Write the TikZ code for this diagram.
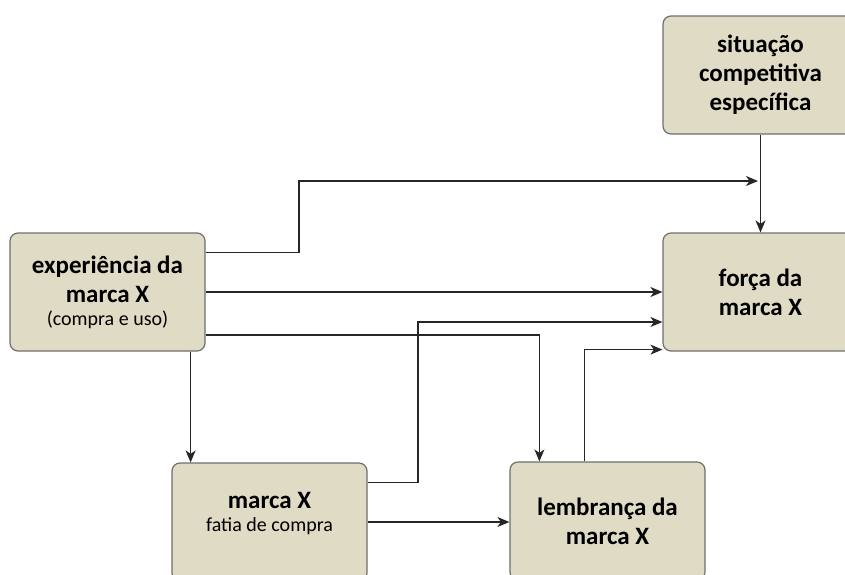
\documentclass[tikz,border=0pt]{standalone}
\usepackage{fontspec}
\setmainfont{Carlito}
\usetikzlibrary{arrows.meta}

\definecolor{boxfill}{RGB}{224,219,197}
\definecolor{boxline}{RGB}{110,110,110}

\begin{document}
\begin{tikzpicture}[x=1pt,y=-1pt,-{Stealth[length=12pt,width=10pt,inset=3.5pt]}]
    \tikzstyle{box}=[rectangle,rounded corners=8pt,draw=boxline,line width=1.2pt,fill=boxfill,minimum width=195pt,minimum height=118pt,inner sep=0pt,align=center,font=\fontsize{25}{29}\selectfont\bfseries]
    \tikzstyle{conn}=[line width=1.2pt,draw=black!85]
    \useasboundingbox (0,0) rectangle (845,574);

    \node[box] (sit) at (760.5,75) {situação\\competitiva\\específica};
    \node[box] (exp) at (107.5,292) {experiência da\\marca X\\[-6pt]{\fontsize{20}{22}\selectfont\mdseries (compra e uso)}};
    \node[box] (forca) at (760.5,292) {força da\\marca X};
    \node[box] (marca) at (269.5,522) {marca X\\[-6pt]{\fontsize{20}{22}\selectfont\mdseries fatia de compra}\\[-8pt]\mbox{}};
    \node[box] (lemb) at (607.5,521) {lembrança da\\marca X};

    \coordinate (up1) at (299,181);
    \coordinate (join) at (758,181);
    \coordinate (k3) at (418,322);

    \draw[conn] (sit.south) -- (forca.north);
    \draw[conn] ([yshift=-20pt]exp.north east) -| (up1) -- (join);
    \draw[conn] (exp.east) -- (forca.west);
    \draw[conn] ([yshift=-20pt]marca.north east) -| (k3) -- (k3 -| forca.west);
    \draw[conn] ([yshift=-43pt]exp.east) -| ([xshift=30pt]lemb.north west);
    \draw[conn] ([xshift=75pt]lemb.north west) |- ([yshift=2pt]forca.south west);
    \draw[conn] ([xshift=-15pt]exp.south east) -- ([xshift=-15pt]exp.south east |- marca.north);
    \draw[conn] (marca.east) -- (marca.east -| lemb.west);
\end{tikzpicture}
\end{document}
